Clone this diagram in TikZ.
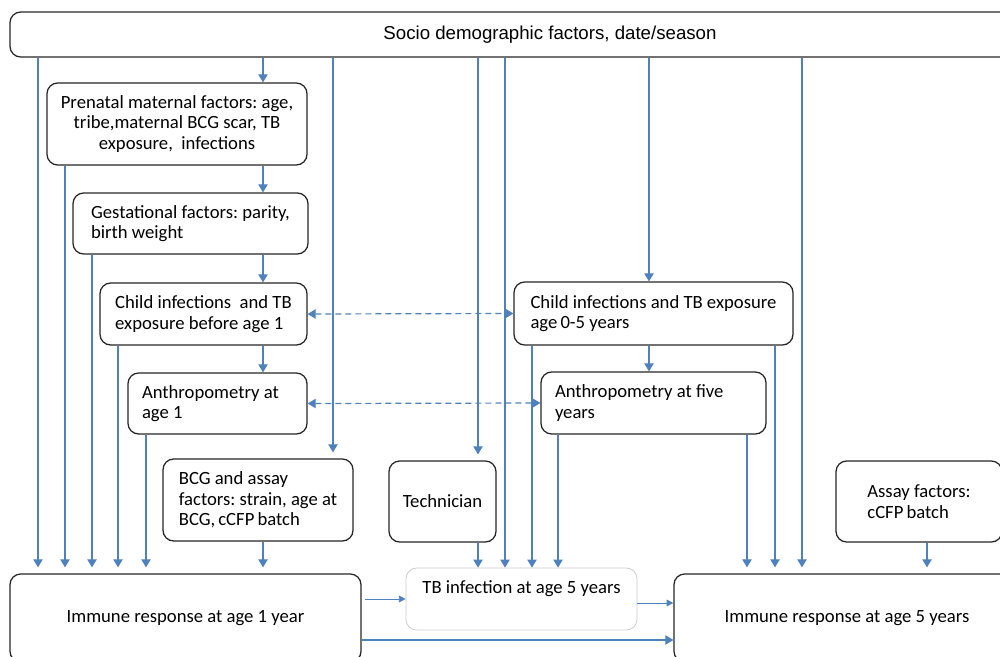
\documentclass[tikz,border=0pt]{standalone}
\usepackage{fontspec}
\setmainfont{Carlito}
\newfontfamily\arialfont{Liberation Sans}
\usetikzlibrary{arrows.meta}

\definecolor{linkblue}{HTML}{4F81BD}
\definecolor{boxgray}{HTML}{CDCDCD}

\tikzset{
  box/.style={draw=black!85, line width=0.95pt, rounded corners=8pt, align=flush left,
    inner sep=0pt, font=\fontsize{14}{15.4}\selectfont\frenchspacing},
  arr/.style={draw=linkblue, line width=0.9pt, -{Triangle[length=6pt,width=7pt]}},
  thinarr/.style={draw=linkblue, line width=0.6pt, -{Triangle[length=5pt,width=5pt]}},
  dasharr/.style={draw=linkblue, line width=0.9pt, dash pattern=on 4.5pt off 3pt,
    {Triangle[length=6pt,width=7pt]}-{Triangle[length=6pt,width=7pt]}}
}

\begin{document}
\begin{tikzpicture}[x=0.75pt,y=-0.75pt]
  \useasboundingbox (0,0) rectangle (1000,657);
  % boxes
  \node[box, minimum width=810pt, minimum height=33.75pt,
    font=\arialfont\fontsize{14}{16}\selectfont\frenchspacing] (top) at (550,34.5) {Socio demographic factors, date/season};
  \node[box, align=center, minimum width=195pt, minimum height=61.5pt] (prenatal) at (177,124)
    {Prenatal maternal factors: age,\\ tribe,maternal BCG scar, TB\\ exposure,\ \ infections};
  \node[box, minimum width=176.25pt, minimum height=45.75pt] (gest) at (190.5,223.5)
    {Gestational factors: parity,\\ birth weight};
  \node[box, minimum width=155.25pt, minimum height=46.5pt] (child1) at (203.5,314)
    {Child infections\ \ and TB\\ exposure before age 1};
  \node[box, minimum width=134.25pt, minimum height=45.75pt, text width=113.25pt] (anthro1) at (217.5,403.5)
    {Anthropometry at\\ age 1};
  \node[box, minimum width=209.25pt, minimum height=47.25pt] (child5) at (653.5,313.5)
    {Child infections and TB exposure\\ age\,0-5 years};
  \node[box, minimum width=168.75pt, minimum height=46.5pt, text width=147.75pt] (anthro5) at (653.5,403)
    {Anthropometry at five\\ years};
  \node[box, minimum width=142.5pt, minimum height=61.5pt] (bcg) at (258,500)
    {BCG and assay\\ factors: strain, age at\\ BCG,\,cCFP\,batch};
  \node[box, minimum width=80.25pt, minimum height=60.75pt] (tech) at (442.5,501.5) {Technician};
  \node[box, minimum width=124.5pt, minimum height=60.75pt] (assay) at (919,501.5)
    {Assay factors:\\ cCFP\,batch};
  \node[box, draw=boxgray, line width=0.6pt, align=center, minimum width=173.25pt,
    text height=18.75pt, text depth=27.75pt] (tbinf) at (521.5,599) {TB infection at age 5 years};
  \node[box, minimum width=263.25pt, minimum height=66pt] (imm1) at (185.5,618)
    {Immune response at age 1 year};
  \node[box, minimum width=259.5pt, minimum height=66pt] (imm5) at (847,618)
    {Immune response at age 5 years};
  \coordinate (imm1in) at ([yshift=4.5pt]imm1.north);
  \coordinate (imm5in) at ([yshift=4.5pt]imm5.north);

  % main chain
  \foreach \xx/\src/\dst in {263/top/prenatal,263/prenatal/gest,263/gest/child1,
      263/child1/anthro1,649/top/child5,649/child5/anthro5}
    \draw[arr] (\xx,0 |- \src.south) -- (\xx,0 |- \dst.north);
  \draw[arr,shorten >=4.5pt] (333,0 |- top.south) -- (333,0 |- bcg.north);
  \draw[arr,shorten >=4.5pt] (478,0 |- top.south) -- (478,0 |- tech.north);

  % into the outcomes
  \foreach \xx/\src in {38/top,65/prenatal,92/gest,118/child1,146/anthro1,263/bcg}
    \draw[arr] (\xx,0 |- \src.south) -- (\xx,0 |- imm1in);
  \foreach \xx/\src in {478/tech,505/top,532/child5,558/anthro5}
    \draw[arr] (\xx,0 |- \src.south) -- (\xx,0 |- tbinf.north);
  \foreach \xx/\src in {747/anthro5,775/child5,802/top,927/assay}
    \draw[arr] (\xx,0 |- \src.south) -- (\xx,0 |- imm5in);

  % across
  \draw[thinarr] (365,0 |- tbinf.west) -- (tbinf.west);
  \draw[thinarr] (tbinf.east |- 0,603) -- (imm5.west |- 0,603);
  \draw[arr] (imm1.east |- 0,640) -- (imm5.west |- 0,640);
  \draw[dasharr] (child1.east) -- (child5.west);
  \draw[dasharr] (anthro1.east) -- (anthro5.west);
\end{tikzpicture}
\end{document}
